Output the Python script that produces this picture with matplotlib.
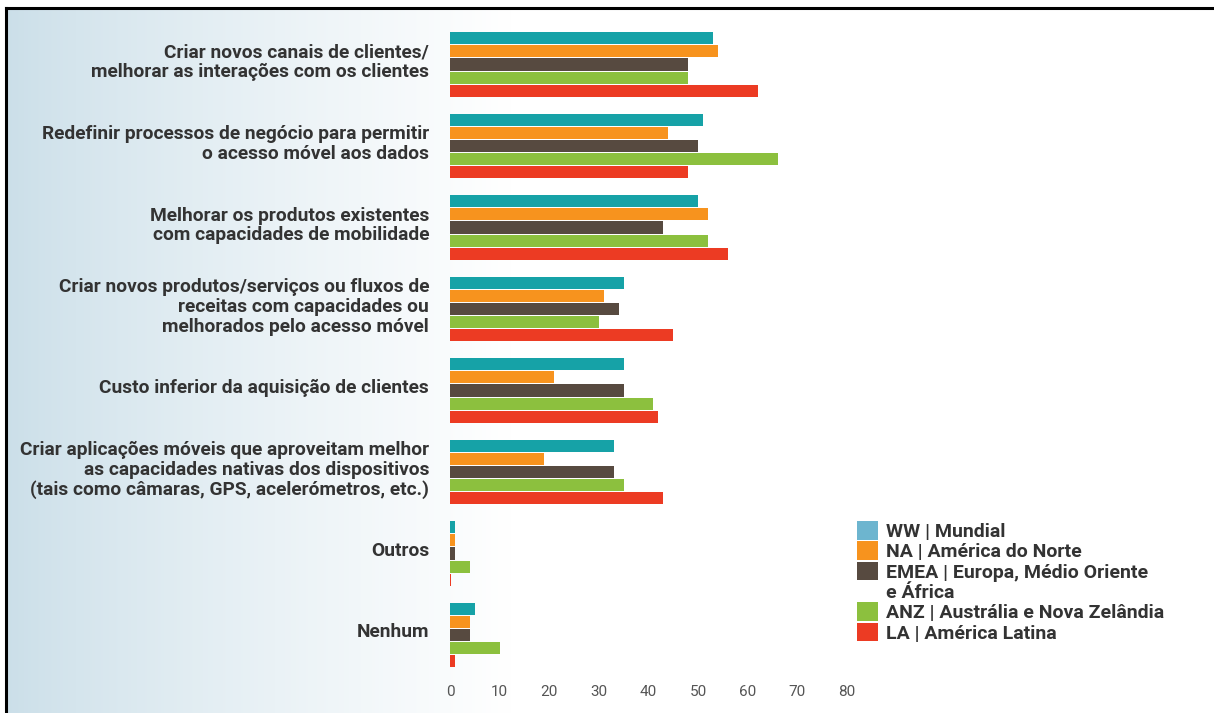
import numpy as np
import matplotlib
matplotlib.use("Agg")
import matplotlib.pyplot as plt
from matplotlib.patches import Patch
from matplotlib.lines import Line2D

# Motivations for mobile access, % of respondents by region
categories = [
    "Criar novos canais de clientes/\nmelhorar as interações com os clientes",
    "Redefinir processos de negócio para permitir\no acesso móvel aos dados",
    "Melhorar os produtos existentes\ncom capacidades de mobilidade",
    "Criar novos produtos/serviços ou fluxos de\nreceitas com capacidades ou\nmelhorados pelo acesso móvel",
    "Custo inferior da aquisição de clientes",
    "Criar aplicações móveis que aproveitam melhor\nas capacidades nativas dos dispositivos\n(tais como câmaras, GPS, acelerómetros, etc.)",
    "Outros",
    "Nenhum",
]
ww = [53, 51, 50, 35, 35, 33, 1, 5]
na = [54, 44, 52, 31, 21, 19, 1, 4]
emea = [48, 50, 43, 34, 35, 33, 1, 4]
anz = [48, 66, 52, 30, 41, 35, 4, 10]
la = [62, 48, 56, 45, 42, 43, 0.2, 1]

series = [ww, na, emea, anz, la]
series_names = ["WW | Mundial", "NA | América do Norte",
                "EMEA | Europa, Médio Oriente", "ANZ | Austrália e Nova Zelândia",
                "LA | América Latina"]
colors = ["#16a2a7", "#f7931e", "#574a40", "#8cc03e", "#ec3b23"]
legend_ww = "#6db5cf"
xticks = [0, 10, 20, 30, 40, 50, 60, 70, 80]

font = ["Roboto", "DejaVu Sans"]
plt.rcParams["font.family"] = font

W, H = 1214, 713
fig = plt.figure(figsize=(W / 100, H / 100), dpi=100)

# soft blue fade behind the labels
bg = fig.add_axes([0, 0, 1, 1], zorder=-5)
bg.set_axis_off()
grad = np.linspace(0, 1, 512)
fade = np.clip(grad / 0.42, 0, 1) ** 0.8
left_col = np.array([0.79, 0.87, 0.91])
img = left_col[None, :] * (1 - fade[:, None]) + fade[:, None]
bg.imshow(img[None, :, :], aspect="auto", extent=[0, 1, 0, 1])
bg.set_xlim(0, 1)
bg.set_ylim(0, 1)
bg.fill_between([0, 1], 1 - 8 / H, 1, color="white", zorder=2)
bg.fill_between([0, 6 / W], 0, 1, color="white", zorder=2)

# frame around the figure panel
fig.add_artist(Line2D([6 / W, 6 / W], [0, 1 - 8 / H], color="black", lw=2.2))
fig.add_artist(Line2D([6 / W, 1], [1 - 8 / H, 1 - 8 / H], color="black", lw=2.2))

# axes placement in pixels
x0, x80 = 450, 847
top_px, bot_px = 20, 675
ax = fig.add_axes([x0 / W, 1 - bot_px / H, (x80 - x0) / W, (bot_px - top_px) / H])
ax.patch.set_alpha(0)

c0, pitch = 64.5, 81.5
ax.set_ylim((bot_px - c0) / pitch, (top_px - c0) / pitch)
ax.set_xlim(0, 80)

y = np.arange(len(categories))
bh, step = 0.148, 0.16
for k, vals in enumerate(series):
    ax.barh(y + (k - 2) * step, vals, height=bh, color=colors[k], linewidth=0)

ax.set_yticks(y - 0.06)
ax.set_yticklabels(categories, fontsize=13.8, fontweight="bold", color="#333333",
                   linespacing=1.12)
ax.set_xticks(xticks)
ax.set_xticklabels([str(t) for t in xticks], fontsize=11, color="#555555")
ax.tick_params(axis="both", length=0)
ax.tick_params(axis="y", pad=15)
ax.tick_params(axis="x", pad=7)
for s in ax.spines.values():
    s.set_visible(False)

handles = [Patch(facecolor=legend_ww), Patch(facecolor=colors[1]),
           Patch(facecolor=colors[2]), Patch(facecolor="none", edgecolor="none"),
           Patch(facecolor=colors[3]), Patch(facecolor=colors[4])]
labels = [series_names[0], series_names[1], series_names[2], "e África",
          series_names[3], series_names[4]]
fig.legend(handles, labels, loc="upper left",
           bbox_to_anchor=(857 / W, 1 - 521 / H), frameon=False,
           prop={"family": font, "weight": "bold", "size": 14},
           labelcolor="#333333", handlelength=1.1, handleheight=1.1,
           handletextpad=0.4, labelspacing=0.02, borderaxespad=0, borderpad=0)

fig.savefig("out.png", dpi=100)
